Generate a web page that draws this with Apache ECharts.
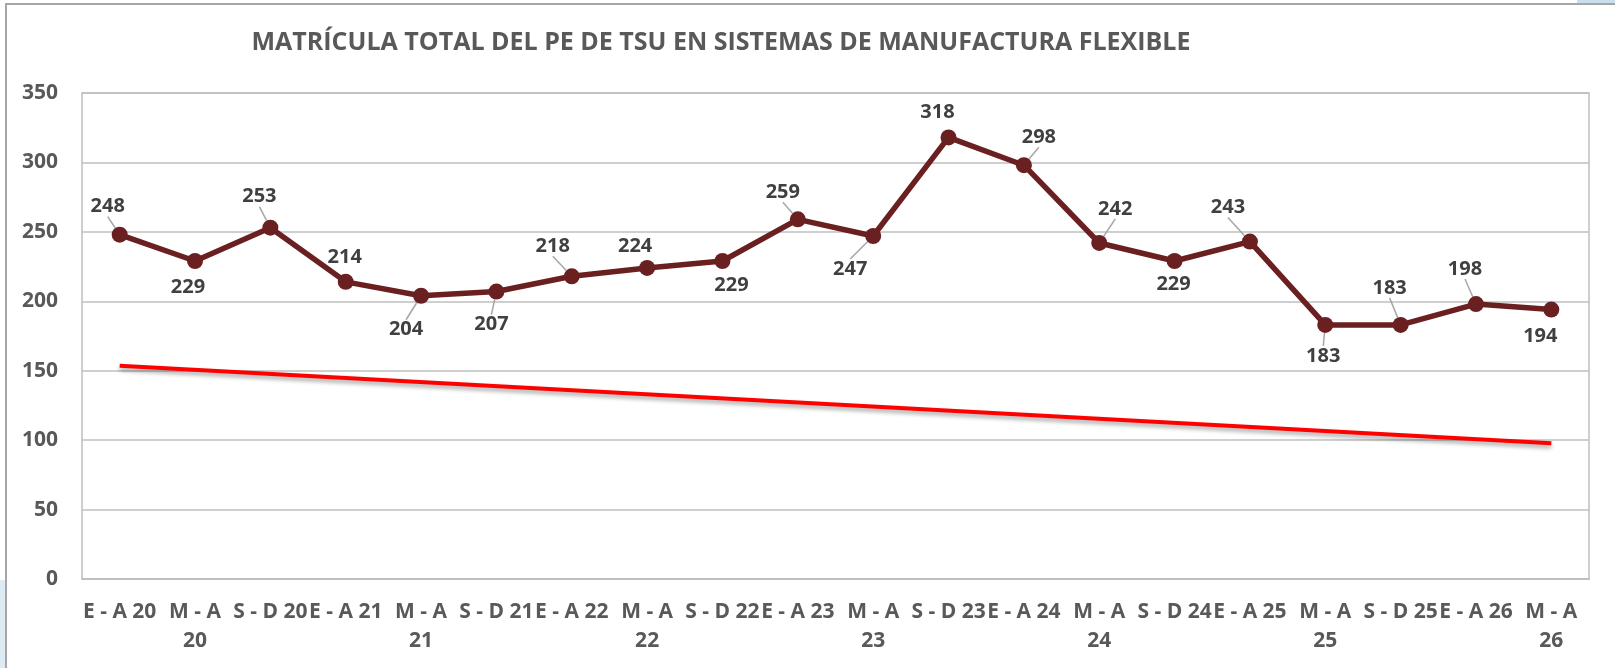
<!DOCTYPE html>
<html>
<head>
<meta charset="utf-8">
<script src="https://cdn.jsdelivr.net/npm/echarts@6/dist/echarts.min.js"></script>
<style>
html,body{margin:0;padding:0;background:#fff;}
#chart{width:1615px;height:668px;}
</style>
</head>
<body>
<div id="chart"></div>
<script>
const titleText = 'MATRÍCULA TOTAL DEL PE DE TSU EN SISTEMAS DE MANUFACTURA FLEXIBLE';
const categories = ['E - A 20','M - A\n20','S - D 20','E - A 21','M - A\n21','S - D 21','E - A 22','M - A\n22','S - D 22','E - A 23','M - A\n23','S - D 23','E - A 24','M - A\n24','S - D 24','E - A 25','M - A\n25','S - D 25','E - A 26','M - A\n26'];
const matricula = [248,229,253,214,204,207,218,224,229,259,247,318,298,242,229,243,183,183,198,194];
const trendStart = 153.5;
const trendEnd = 97.8;
const yTicks = {min:0, max:350, interval:50};

// label offsets (px) relative to the point, and whether a leader line is shown
const labelOffsets = [[-12,-28],[-7,26],[-11,-31],[-1,-25],[-15,34],[-5,33],[-19,-30],[-12,-22],[9,24],[-15,-27],[-23,33],[-11,-25],[15,-28],[16,-34],[-1,23],[-22,-34],[-2,31],[-11,-37],[-11,-35],[-11,27]];
const leader = [1,0,1,0,1,1,1,0,0,1,1,0,1,1,0,1,1,1,1,0];

const chart = echarts.init(document.getElementById('chart'));
const font = '"Open Sans", "Noto Sans", sans-serif';

chart.setOption({
  animation:false,
  backgroundColor:'#fff',
  textStyle:{fontFamily:font},
  graphic:[
    {type:'rect', shape:{x:-5, y:580, width:11, height:100}, style:{fill:'rgba(190,215,232,0.5)'}, z:-1},
    {type:'rect', shape:{x:1577, y:-2, width:40, height:5}, style:{fill:'rgba(180,210,230,0.7)'}, z:-1},
    {type:'rect', shape:{x:6, y:4, width:1640, height:700}, style:{fill:'none', stroke:'#A6A6A6', lineWidth:2}, z:0},
    {type:'text', x:721, y:43, style:{text:titleText, fontFamily:font, fontWeight:'bold', fontSize:25, fill:'#595959', textAlign:'center', textVerticalAlign:'middle'}}
  ],
  grid:{left:82, right:26, top:93, bottom:89, show:true, borderColor:'#BFBFBF', borderWidth:1.5, backgroundColor:'transparent', outerBoundsMode:'none', containLabel:false},
  xAxis:[{
    type:'category', data:categories, boundaryGap:true,
    axisTick:{show:false},
    axisLine:{show:true, lineStyle:{color:'#BFBFBF', width:1.5}},
    axisLabel:{interval:0, color:'#595959', fontWeight:'bold', fontSize:21, fontFamily:font, margin:19, lineHeight:29}
  }],
  yAxis:[{
    type:'value', min:yTicks.min, max:yTicks.max, interval:yTicks.interval,
    axisLine:{show:false}, axisTick:{show:false},
    splitLine:{lineStyle:{color:'#BFBFBF', width:1.5}},
    axisLabel:{color:'#595959', fontWeight:'bold', fontSize:21, fontFamily:font, margin:24}
  }],
  series:[
    {
      type:'line', name:'Tendencia', silent:true, symbol:'none', z:2,
      data:[[0,trendStart],[categories.length-1,trendEnd]],
      lineStyle:{color:'#FF0000', width:4, shadowColor:'rgba(0,0,0,0.35)', shadowBlur:4, shadowOffsetY:3},
      label:{show:false}
    },
    {
      type:'line', name:'Matrícula', z:3,
      data:matricula.map((v,i)=>({value:v, labelLine:{show:!!leader[i]}})),
      symbol:'circle', symbolSize:16,
      itemStyle:{color:'#6A2020'},
      lineStyle:{color:'#6A2020', width:5.5},
      label:{show:true, position:'inside', color:'#404040', fontWeight:'bold', fontSize:20, fontFamily:font},
      labelLine:{show:true, lineStyle:{color:'#A6A6A6', width:1.5}},
      labelLayout:function(p){ const o = labelOffsets[p.dataIndex]; return {dx:o[0], dy:o[1]}; }
    }
  ]
});
</script>
</body>
</html>
